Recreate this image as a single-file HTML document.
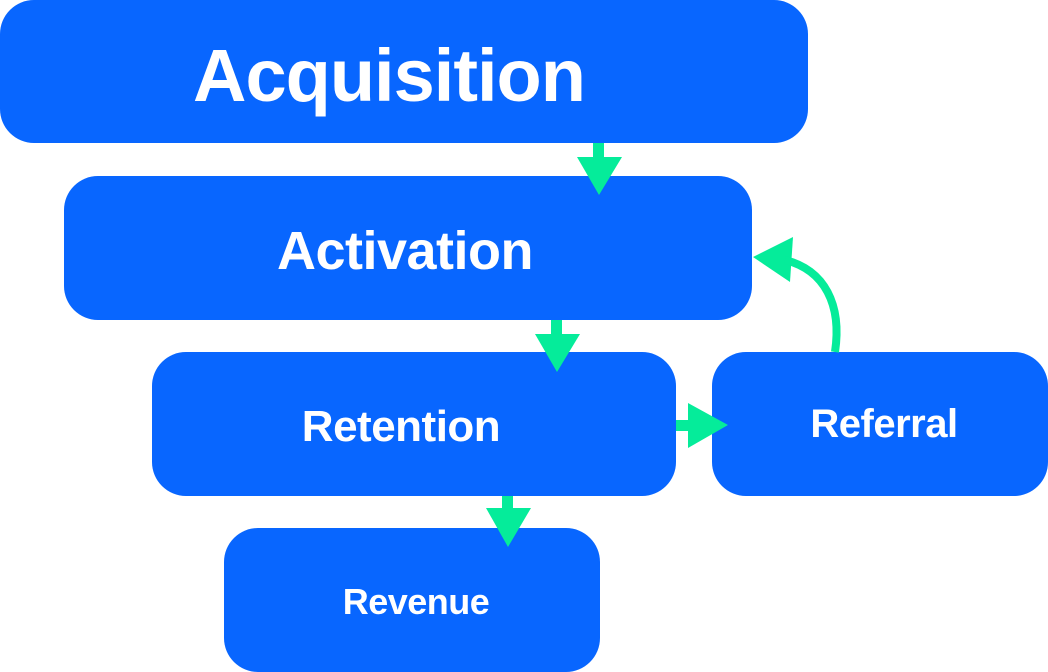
<!DOCTYPE html>
<html><head><style>
html,body{margin:0;padding:0;background:#fff;width:1048px;height:672px;overflow:hidden}
.b{position:absolute;background:#0866FF;border-radius:34px;color:#fff;font-family:"Liberation Sans",sans-serif;font-weight:bold;display:flex;align-items:center;justify-content:center;letter-spacing:-0.5px;box-sizing:border-box}
svg{position:absolute;left:0;top:0}
</style></head><body>
<div class="b" style="left:0;top:0;width:808px;height:143px;font-size:74px;padding-right:30px;padding-top:8px;letter-spacing:-1px">Acquisition</div>
<div class="b" style="left:64px;top:176px;width:688px;height:144px;font-size:54px;padding-top:6px;padding-right:6px">Activation</div>
<div class="b" style="left:152px;top:352px;width:524px;height:144px;font-size:44px;padding-top:6px;padding-right:26px">Retention</div>
<div class="b" style="left:712px;top:352px;width:336px;height:144px;font-size:40px;padding-left:8px">Referral</div>
<div class="b" style="left:224px;top:528px;width:376px;height:144px;font-size:36px;padding-top:4px;padding-left:8px">Revenue</div>
<svg width="1048" height="672">
<g fill="#05EC9A">
<rect x="593" y="143" width="11" height="16"/><polygon points="577,157 622,157 599,195"/>
<rect x="551" y="320" width="11" height="16"/><polygon points="535,334 580,334 557,372"/>
<rect x="502" y="496" width="11" height="14"/><polygon points="486,508 531,508 508,547"/>
<rect x="676" y="420" width="14" height="11"/><polygon points="688,403 688,448 728,425"/>
<polygon points="753,257 793,237 790,282"/>
</g>
<path d="M835,352 C842,305 825,270 785,260" fill="none" stroke="#05EC9A" stroke-width="8"/>
</svg>
</body></html>
